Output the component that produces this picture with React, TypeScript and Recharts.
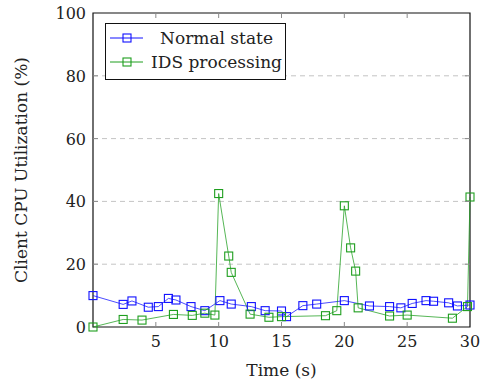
import React from 'react';
import {
  LineChart,
  Line,
  XAxis,
  YAxis,
  CartesianGrid,
  ReferenceArea,
  Legend,
} from 'recharts';

// sample times (s) and client CPU utilisation (%)
const normalTime = [0, 2.4, 3.1, 4.4, 5.2, 6.0, 6.6, 7.8, 8.9, 10.1, 11.0, 12.6, 13.7, 15.0, 15.4, 16.7, 17.8, 20.0, 22.0, 23.6, 24.5, 25.4, 26.5, 27.1, 28.3, 29.0, 30.0];
const normalCpu = [10.0, 7.2, 8.3, 6.3, 6.5, 9.1, 8.6, 6.5, 5.2, 8.4, 7.3, 6.5, 5.2, 5.1, 3.3, 6.8, 7.3, 8.4, 6.7, 6.5, 6.1, 7.5, 8.4, 8.2, 7.7, 6.7, 7.0];

const idsTime = [0, 2.4, 3.9, 6.4, 7.9, 8.9, 9.7, 10.0, 10.8, 11.0, 12.5, 14.0, 15.0, 18.5, 19.4, 20.0, 20.5, 20.9, 21.1, 23.6, 25.0, 28.6, 29.8, 30.0];
const idsCpu = [0, 2.4, 2.2, 4.0, 3.7, 4.4, 3.8, 42.5, 22.6, 17.4, 4.1, 3.1, 3.3, 3.6, 5.2, 38.6, 25.2, 17.8, 6.1, 3.5, 3.8, 2.8, 6.5, 41.4];

const xTicks = [0, 5, 10, 15, 20, 25, 30];
const yTicks = [0, 20, 40, 60, 80, 100];

const normalData = normalTime.map((t, i) => ({ t, v: normalCpu[i] }));
const idsData = idsTime.map((t, i) => ({ t, v: idsCpu[i] }));

const FONT = '"DejaVu Serif", "Liberation Serif", serif';
const W = 481;
const H = 383;
const TOP = 13;
const RIGHT = 11;
const LEFT_W = 93;
const BOTTOM_H = 56;
const PLOT_RIGHT = W - RIGHT;
const PLOT_BOTTOM = H - BOTTOM_H;

const BLUE = '#1010ff';
const GREEN = '#1e9e1e';
const TICK_COLOR = '#8a8a8a';

const squareDot = (color: string) => (props: any) => {
  const { cx, cy, index } = props;
  if (cx == null || cy == null) return <g key={index} />;
  return (
    <rect
      key={index}
      x={cx - 4}
      y={cy - 4}
      width={8}
      height={8}
      fill="none"
      stroke={color}
      strokeWidth={1.1}
    />
  );
};

const XTick = (props: any) => {
  const { x, y, payload } = props;
  const v = payload.value;
  const edge = v === 0 || v === 30;
  return (
    <g>
      {!edge && <line x1={x} y1={y} x2={x} y2={y - 5} stroke={TICK_COLOR} />}
      {!edge && <line x1={x} y1={TOP} x2={x} y2={TOP + 5} stroke={TICK_COLOR} />}
      {v !== 0 && (
        <text x={x} y={y + 20} textAnchor="middle" fontFamily={FONT} fontSize={16} fill="#222">
          {v}
        </text>
      )}
    </g>
  );
};

const YTick = (props: any) => {
  const { x, y, payload } = props;
  const v = payload.value;
  const edge = v === 0 || v === 100;
  return (
    <g>
      {!edge && <line x1={x} y1={y} x2={x + 5} y2={y} stroke={TICK_COLOR} />}
      {!edge && <line x1={PLOT_RIGHT} y1={y} x2={PLOT_RIGHT - 5} y2={y} stroke={TICK_COLOR} />}
      <text x={x - 7} y={y + 6} textAnchor="end" fontFamily={FONT} fontSize={16} fill="#222">
        {v}
      </text>
    </g>
  );
};

const legendItems = [
  { name: 'Normal state', color: BLUE },
  { name: 'IDS processing', color: GREEN },
];

const LegendBox = () => (
  <div
    style={{
      width: 181,
      height: 57,
      boxSizing: 'border-box',
      border: '1px solid #111',
      background: '#fff',
      paddingTop: 2,
      fontFamily: FONT,
      fontSize: 17,
      color: '#222',
    }}
  >
    {legendItems.map((item) => (
      <div key={item.name} style={{ display: 'flex', alignItems: 'center', height: 24 }}>
        <svg width={42} height={14} style={{ flex: 'none' }}>
          <line x1={4} y1={7} x2={37} y2={7} stroke={item.color} strokeWidth={1} />
          <rect x={17} y={3} width={8} height={8} fill="none" stroke={item.color} strokeWidth={1.1} />
        </svg>
        <span style={{ flex: 1, textAlign: 'center', whiteSpace: 'nowrap' }}>{item.name}</span>
      </div>
    ))}
  </div>
);

const YLabel = () => {
  const cx = 27;
  const cy = (TOP + PLOT_BOTTOM) / 2;
  return (
    <text
      x={cx}
      y={cy}
      transform={`rotate(-90, ${cx}, ${cy})`}
      textAnchor="middle"
      fontFamily={FONT}
      fontSize={17}
      fill="#222"
    >
      Client CPU Utilization (%)
    </text>
  );
};

const XLabel = () => (
  <text
    x={(LEFT_W + PLOT_RIGHT) / 2}
    y={376}
    textAnchor="middle"
    fontFamily={FONT}
    fontSize={17}
    fill="#222"
  >
    Time (s)
  </text>
);

export default function App() {
  return (
    <div style={{ position: 'absolute', left: 0, top: 0, width: W, height: H, background: '#fff' }}>
      <LineChart width={W} height={H} margin={{ top: TOP, right: RIGHT, bottom: 0, left: 0 }}>
        <CartesianGrid
          vertical={false}
          horizontalValues={[20, 40, 60, 80]}
          stroke="#c4c4c4"
          strokeDasharray="5 4"
        />
        <XAxis
          type="number"
          dataKey="t"
          domain={[0, 30]}
          ticks={xTicks}
          height={BOTTOM_H}
          axisLine={false}
          tickLine={false}
          tickSize={0}
          tickMargin={0}
          tick={<XTick />}
          label={<XLabel />}
        />
        <YAxis
          type="number"
          domain={[0, 100]}
          ticks={yTicks}
          width={LEFT_W}
          axisLine={false}
          tickLine={false}
          tickSize={0}
          tickMargin={0}
          tick={<YTick />}
          label={<YLabel />}
        />
        <ReferenceArea x1={0} x2={30} y1={0} y2={100} fill="none" stroke="#111" strokeWidth={1.2} />
        <Legend
          layout="vertical"
          align="center"
          verticalAlign="middle"
          wrapperStyle={{ left: 105, top: 23, width: 181, height: 57 }}
          content={<LegendBox />}
        />
        <Line
          data={normalData}
          dataKey="v"
          name="Normal state"
          stroke={BLUE}
          strokeOpacity={0.75}
          strokeWidth={1}
          dot={squareDot(BLUE)}
          activeDot={false}
          isAnimationActive={false}
        />
        <Line
          data={idsData}
          dataKey="v"
          name="IDS processing"
          stroke={GREEN}
          strokeOpacity={0.75}
          strokeWidth={1}
          dot={squareDot(GREEN)}
          activeDot={false}
          isAnimationActive={false}
        />
      </LineChart>
    </div>
  );
}
